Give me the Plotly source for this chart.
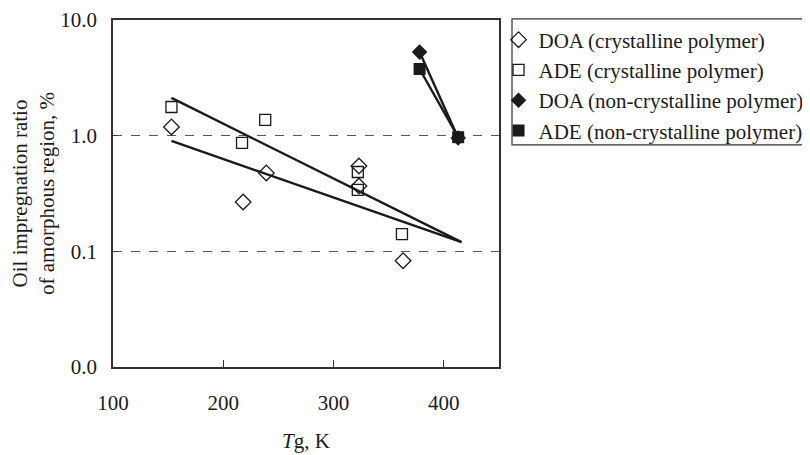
import plotly.graph_objects as go

# ---- data ----
tg_doa_cryst = [153, 218, 239, 323, 323, 363]
doa_cryst = [1.19, 0.267, 0.476, 0.547, 0.367, 0.083]

tg_ade_cryst = [153, 217, 238, 322, 322, 362]
ade_cryst = [1.77, 0.865, 1.37, 0.485, 0.34, 0.141]

tg_noncryst = [378, 413]
doa_noncryst = [5.28, 0.955]
ade_noncryst = [3.77, 0.97]

trend_tg = [153, 416]
doa_trend = [0.90, 0.12]
ade_trend = [2.12, 0.12]

x_ticks = [100, 200, 300, 400]
y_ticks = [0.01, 0.1, 1, 10]
y_ticktext = ["0.0", "0.1", "1.0", "10.0"]

series_names = [
    "DOA (crystalline polymer)",
    "ADE (crystalline polymer)",
    "DOA (non-crystalline polymer)",
    "ADE (non-crystalline polymer)",
]

FONT = "Liberation Serif, Times New Roman, serif"
INK = "#1a1a1a"
FS = 21

fig = go.Figure()

# trend / connecting lines (no legend)
for xs, ys in [(trend_tg, ade_trend), (trend_tg, doa_trend),
               (tg_noncryst, doa_noncryst), (tg_noncryst, ade_noncryst)]:
    fig.add_trace(go.Scatter(x=xs, y=ys, mode="lines",
                             line=dict(color=INK, width=2.4),
                             showlegend=False, hoverinfo="skip"))

# markers
fig.add_trace(go.Scatter(x=tg_doa_cryst, y=doa_cryst, mode="markers", name=series_names[0],
                         marker=dict(symbol="diamond-open", size=12, color=INK, line=dict(width=1.3))))
fig.add_trace(go.Scatter(x=tg_ade_cryst, y=ade_cryst, mode="markers", name=series_names[1],
                         marker=dict(symbol="square-open", size=11, color=INK, line=dict(width=1.3))))
fig.add_trace(go.Scatter(x=tg_noncryst, y=doa_noncryst, mode="markers", name=series_names[2],
                         marker=dict(symbol="diamond", size=12, color=INK)))
fig.add_trace(go.Scatter(x=tg_noncryst, y=ade_noncryst, mode="markers", name=series_names[3],
                         marker=dict(symbol="square", size=12, color=INK)))

# legend frame
fig.add_shape(type="rect", xref="paper", yref="paper",
              x0=1.0337, x1=2.0, y0=0.64, y1=1.003,
              line=dict(color="#333", width=1.2), fillcolor="rgba(0,0,0,0)")

fig.update_layout(
    width=810, height=455,
    margin=dict(l=105, r=319, t=12, b=96, autoexpand=False),
    paper_bgcolor="white", plot_bgcolor="white",
    font=dict(family=FONT, size=FS, color=INK),
    legend=dict(xref="container", yref="container",
                x=0.6056, y=0.9747, xanchor="left", yanchor="top",
                bgcolor="rgba(0,0,0,0)", borderwidth=0,
                font=dict(family=FONT, size=FS, color=INK),
                itemwidth=30, tracegroupgap=0),
    showlegend=True,
)

fig.update_xaxes(
    range=[100, 450], tickvals=x_ticks, automargin=False,
    ticks="inside", ticklen=7, tickcolor="#333", tickwidth=1,
    showline=True, linecolor="#333", linewidth=1.5, mirror=True,
    showgrid=False, zeroline=False,
    ticklabelstandoff=16,
    title=dict(text="<i>T</i>g, K", standoff=19, font=dict(family=FONT, size=FS)),
    tickfont=dict(family=FONT, size=FS),
)
fig.update_yaxes(
    type="log", range=[-2, 1], tickvals=y_ticks, ticktext=y_ticktext, automargin=False,
    ticks="inside", ticklen=5, tickcolor="#333", tickwidth=1,
    showline=True, linecolor="#333", linewidth=1.5, mirror=True,
    showgrid=True, gridcolor="#555", gridwidth=1, griddash="dash",
    zeroline=False,
    ticklabelstandoff=10,
    title=dict(text="Oil impregnation ratio<br>of amorphous region, %", standoff=1,
               font=dict(family=FONT, size=FS)),
    tickfont=dict(family=FONT, size=FS),
)

fig.write_html("out.html")
